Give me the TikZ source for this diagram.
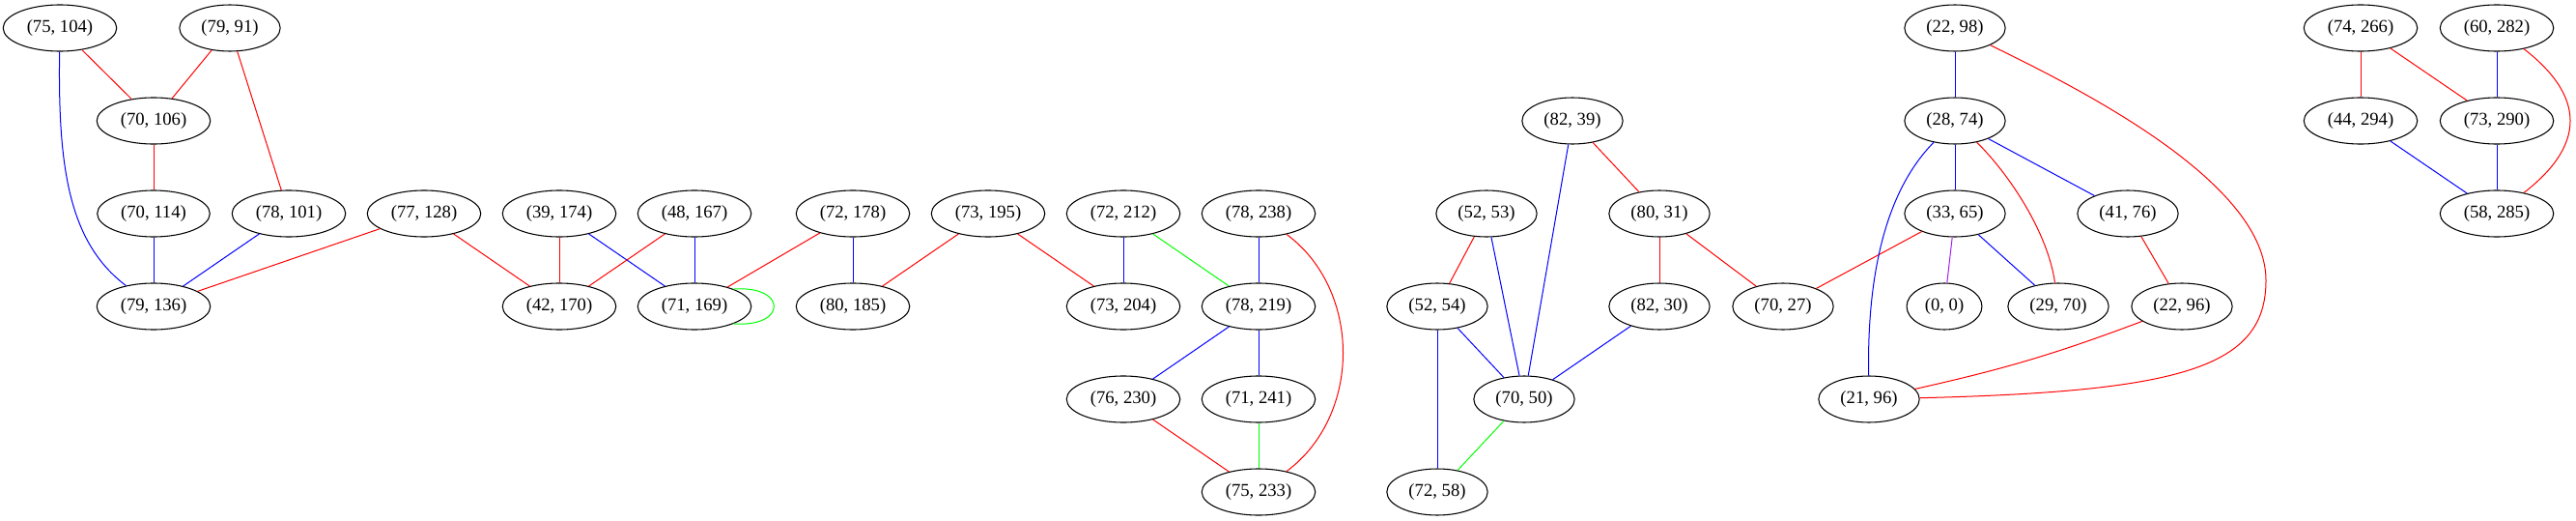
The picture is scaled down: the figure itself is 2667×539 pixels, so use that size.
\documentclass[tikz,border=0pt]{standalone}
\usepackage{fontspec}
\setmainfont{Liberation Serif}
\usetikzlibrary{shapes.geometric}
\definecolor{gvred}{RGB}{255,0,0}
\definecolor{gvblue}{RGB}{0,0,255}
\definecolor{gvgreen}{RGB}{0,255,0}
\definecolor{gvpurple}{RGB}{160,32,240}
\begin{document}
\begin{tikzpicture}[x=0.75pt,y=-0.75pt,
  gn/.style={draw=black, line width=0.8pt, ellipse, inner xsep=5.5pt, inner ysep=0pt,
    minimum height=36pt, font=\fontsize{14pt}{16pt}\selectfont},
  er/.style={draw=gvred, line width=0.75pt},
  eb/.style={draw=gvblue, line width=0.75pt},
  eg/.style={draw=gvgreen, line width=0.75pt},
  ep/.style={draw=gvpurple, line width=0.75pt}]
\path[use as bounding box] (0,0) rectangle (2667,539);

% nodes
\node[gn] (a75x104) at (62,29) {(75, 104)};
\node[gn] (a79x91) at (238,29) {(79, 91)};
\node[gn] (a70x106) at (159,125) {(70, 106)};
\node[gn] (a70x114) at (159,221) {(70, 114)};
\node[gn] (a78x101) at (299,221) {(78, 101)};
\node[gn] (a77x128) at (439,221) {(77, 128)};
\node[gn] (a39x174) at (579,221) {(39, 174)};
\node[gn] (a48x167) at (719,221) {(48, 167)};
\node[gn] (a72x178) at (883,221) {(72, 178)};
\node[gn] (a79x136) at (159,317) {(79, 136)};
\node[gn] (a42x170) at (579,317) {(42, 170)};
\node[gn] (a71x169) at (719,317) {(71, 169)};
\node[gn] (a80x185) at (883,317) {(80, 185)};
\node[gn] (a73x195) at (1023,221) {(73, 195)};
\node[gn] (a72x212) at (1163,221) {(72, 212)};
\node[gn] (a78x238) at (1303,221) {(78, 238)};
\node[gn] (a73x204) at (1163,317) {(73, 204)};
\node[gn] (a78x219) at (1303,317) {(78, 219)};
\node[gn] (a76x230) at (1163,413) {(76, 230)};
\node[gn] (a71x241) at (1303,413) {(71, 241)};
\node[gn] (a75x233) at (1303,509) {(75, 233)};
\node[gn] (a52x53) at (1539,221) {(52, 53)};
\node[gn] (a82x39) at (1628,125) {(82, 39)};
\node[gn] (a80x31) at (1718,221) {(80, 31)};
\node[gn] (a52x54) at (1488,317) {(52, 54)};
\node[gn] (a82x30) at (1718,317) {(82, 30)};
\node[gn] (a70x27) at (1846,317) {(70, 27)};
\node[gn] (a70x50) at (1578,413) {(70, 50)};
\node[gn] (a72x58) at (1488,509) {(72, 58)};
\node[gn] (a22x98) at (2024,29) {(22, 98)};
\node[gn] (a28x74) at (2024,125) {(28, 74)};
\node[gn] (a33x65) at (2024,221) {(33, 65)};
\node[gn] (a41x76) at (2203,221) {(41, 76)};
\node[gn] (a0x0) at (2013,317) {(0, 0)};
\node[gn] (a29x70) at (2131,317) {(29, 70)};
\node[gn] (a22x96) at (2259,317) {(22, 96)};
\node[gn] (a21x96) at (1935,413) {(21, 96)};
\node[gn] (a74x266) at (2444,29) {(74, 266)};
\node[gn] (a60x282) at (2585,29) {(60, 282)};
\node[gn] (a44x294) at (2444,125) {(44, 294)};
\node[gn] (a73x290) at (2585,125) {(73, 290)};
\node[gn] (a58x285) at (2585,221) {(58, 285)};

% edges
\draw[er] (a75x104) -- (a70x106);
\draw[er] (a79x91) -- (a70x106);
\draw[er] (a79x91) -- (a78x101);
\draw[eb] (a75x104) .. controls (60,170) and (70,250) .. (a79x136);
\draw[er] (a70x106) -- (a70x114);
\draw[eb] (a70x114) -- (a79x136);
\draw[eb] (a78x101) -- (a79x136);
\draw[er] (a77x128) -- (a79x136);
\draw[er] (a77x128) -- (a42x170);
\draw[er] (a39x174) -- (a42x170);
\draw[eb] (a39x174) -- (a71x169);
\draw[er] (a48x167) -- (a42x170);
\draw[eb] (a48x167) -- (a71x169);
\draw[er] (a72x178) -- (a71x169);
\draw[eg] (a71x169.24) .. controls +(56,-4) and +(56,4) .. (a71x169.-24);
\draw[eb] (a72x178) -- (a80x185);
\draw[er] (a73x195) -- (a80x185);
\draw[er] (a73x195) -- (a73x204);
\draw[eb] (a72x212) -- (a73x204);
\draw[eg] (a72x212) -- (a78x219);
\draw[eb] (a78x238) -- (a78x219);
\draw[er] (a78x238) .. controls (1410,300) and (1410,430) .. (a75x233);
\draw[eb] (a78x219) -- (a76x230);
\draw[eb] (a78x219) -- (a71x241);
\draw[er] (a76x230) -- (a75x233);
\draw[eg] (a71x241) -- (a75x233);
\draw[er] (a52x53) -- (a52x54);
\draw[eb] (a52x53) -- (a70x50);
\draw[eb] (a82x39) -- (a70x50);
\draw[er] (a82x39) -- (a80x31);
\draw[eb] (a52x54) -- (a70x50);
\draw[eb] (a52x54) -- (a72x58);
\draw[eb] (a82x30) -- (a70x50);
\draw[eg] (a70x50) -- (a72x58);
\draw[er] (a80x31) -- (a82x30);
\draw[er] (a80x31) -- (a70x27);
\draw[er] (a33x65) -- (a70x27);
\draw[eb] (a22x98) -- (a28x74);
\draw[er] (a22x98) .. controls (2160,95) and (2346,190) .. (2346,290)
  .. controls (2346,380) and (2260,405) .. (a21x96);
\draw[eb] (a28x74) -- (a33x65);
\draw[eb] (a28x74) -- (a41x76);
\draw[er] (a28x74) .. controls (2080,180) and (2120,240) .. (a29x70);
\draw[eb] (a28x74) .. controls (1950,200) and (1933,290) .. (a21x96);
\draw[ep] (a33x65) -- (a0x0);
\draw[eb] (a33x65) -- (a29x70);
\draw[er] (a41x76) -- (a22x96);
\draw[er] (a22x96) to[bend left=4] (a21x96);
\draw[er] (a74x266) -- (a44x294);
\draw[er] (a74x266) -- (a73x290);
\draw[eb] (a60x282) -- (a73x290);
\draw[er] (a60x282) .. controls (2677,100) and (2677,150) .. (a58x285);
\draw[eb] (a44x294) -- (a58x285);
\draw[eb] (a73x290) -- (a58x285);
\end{tikzpicture}
\end{document}
